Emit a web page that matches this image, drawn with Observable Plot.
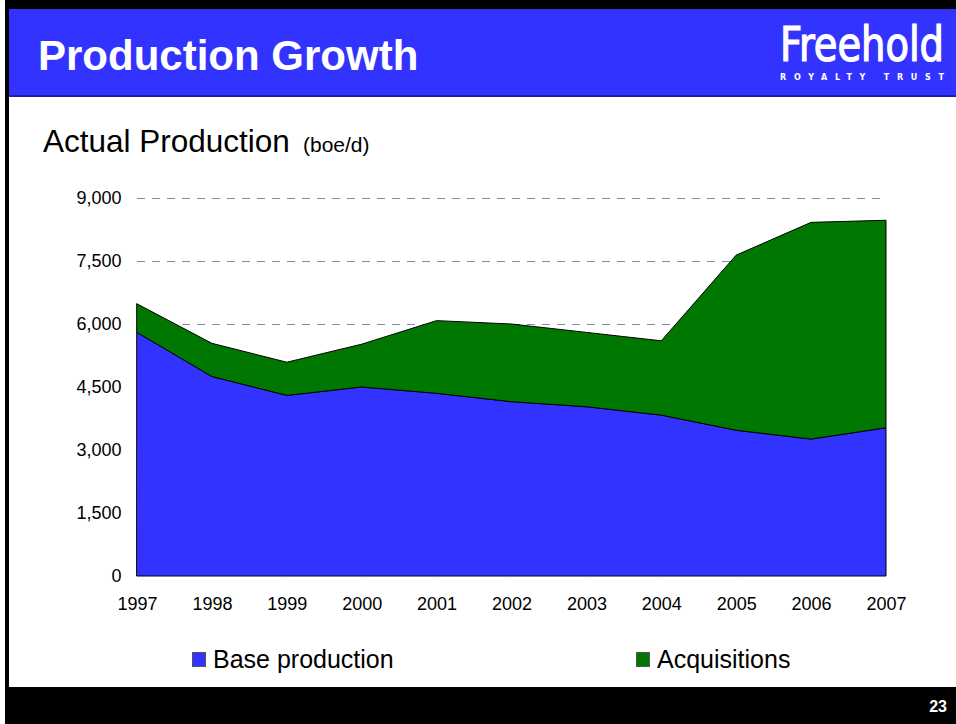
<!DOCTYPE html>
<html>
<head>
<meta charset="utf-8">
<script src="https://cdn.jsdelivr.net/npm/d3@7"></script>
<script src="https://cdn.jsdelivr.net/npm/@observablehq/plot@0.6"></script>
<style>
  html, body { margin: 0; padding: 0; background: #fff; }
  #slide { position: relative; width: 956px; height: 724px; overflow: hidden; background: #fff; font-family: "Liberation Sans", Arial, sans-serif; }
  #chrome { position: absolute; left: 0; top: 0; }
  #chart { position: absolute; left: 10px; top: 170px; }
  #chart svg { background: transparent; overflow: visible; }
</style>
</head>
<body>
<div id="slide">
  <svg id="chrome" width="956" height="724" xmlns="http://www.w3.org/2000/svg">
    <rect x="5" y="0" width="951" height="9" fill="#000"/>
    <rect x="5" y="0" width="4" height="724" fill="#000"/>
    <rect x="9" y="9" width="947" height="86" fill="#3333FF"/>
    <rect x="9" y="95" width="947" height="2" fill="#1f1fa0"/>
    <text x="38" y="70" fill="#fff" font-size="42" font-weight="bold" font-family="Liberation Sans, Arial, sans-serif">Production Growth</text>
    <text transform="translate(780,61) scale(1,1.2)" x="0" y="0" fill="#fff" stroke="#fff" stroke-width="1" font-size="40" font-family="Liberation Sans Narrow, DejaVu Sans Condensed, sans-serif" textLength="164" lengthAdjust="spacingAndGlyphs">Freehold</text>
    <text x="780" y="80" fill="#fff" font-size="8" font-weight="bold" font-family="DejaVu Sans, sans-serif" textLength="164" lengthAdjust="spacing">ROYALTY TRUST</text>
    <text x="43" y="152" fill="#000" font-size="31.5" font-family="Liberation Sans, Arial, sans-serif">Actual Production<tspan x="303" font-size="21">(boe/d)</tspan></text>
    <rect x="192.5" y="652.5" width="13" height="14" fill="#3333FF" stroke="#555" stroke-width="1"/>
    <text x="213" y="668" fill="#000" font-size="25" font-family="Liberation Sans, Arial, sans-serif">Base production</text>
    <rect x="636.5" y="652.5" width="13" height="14" fill="#007700" stroke="#555" stroke-width="1"/>
    <text x="657" y="668" fill="#000" font-size="25" font-family="Liberation Sans, Arial, sans-serif">Acquisitions</text>
    <rect x="7" y="687" width="949" height="37" fill="#000"/>
    <text x="947" y="712" fill="#fff" font-size="16" font-weight="bold" text-anchor="end" font-family="Liberation Sans, Arial, sans-serif">23</text>
  </svg>
  <div id="chart"></div>
</div>
<script>
// Data (boe/d)
const years = [1997, 1998, 1999, 2000, 2001, 2002, 2003, 2004, 2005, 2006, 2007];
const baseProduction = [5800, 4750, 4300, 4500, 4350, 4150, 4030, 3830, 3470, 3260, 3530];
const acquisitions = [680, 790, 790, 1020, 1730, 1850, 1770, 1770, 4170, 5160, 4940];
const seriesNames = ["Base production", "Acquisitions"];
const seriesColors = ["#3333FF", "#007700"];
const yTicks = [0, 1500, 3000, 4500, 6000, 7500, 9000];

const rows = [];
years.forEach((yr, i) => rows.push({year: yr, series: seriesNames[0], value: baseProduction[i]}));
years.forEach((yr, i) => rows.push({year: yr, series: seriesNames[1], value: acquisitions[i]}));

const chart = Plot.plot({
  width: 946,
  height: 450,
  marginLeft: 127,
  marginRight: 70,
  marginTop: 28,
  marginBottom: 44,
  style: {fontFamily: "Liberation Sans, Arial, sans-serif", fontSize: "18px", color: "#000", background: "transparent"},
  x: {domain: [1997, 2007], ticks: years, tickFormat: "d", tickSize: 0, tickPadding: 21, label: null},
  y: {domain: [0, 9000], ticks: yTicks, tickFormat: d3.format(","), tickSize: 0, tickPadding: 16, label: null},
  color: {domain: seriesNames, range: seriesColors},
  marks: [
    Plot.ruleY(yTicks.filter(d => d > 0), {stroke: "#7a90aa", strokeWidth: 1, strokeDasharray: "8,7"}),
    Plot.areaY(rows, {x: "year", y: "value", z: "series", fill: "series", stroke: "#000", strokeWidth: 1, order: null})
  ]
});
document.getElementById("chart").appendChild(chart);
</script>
</body>
</html>
